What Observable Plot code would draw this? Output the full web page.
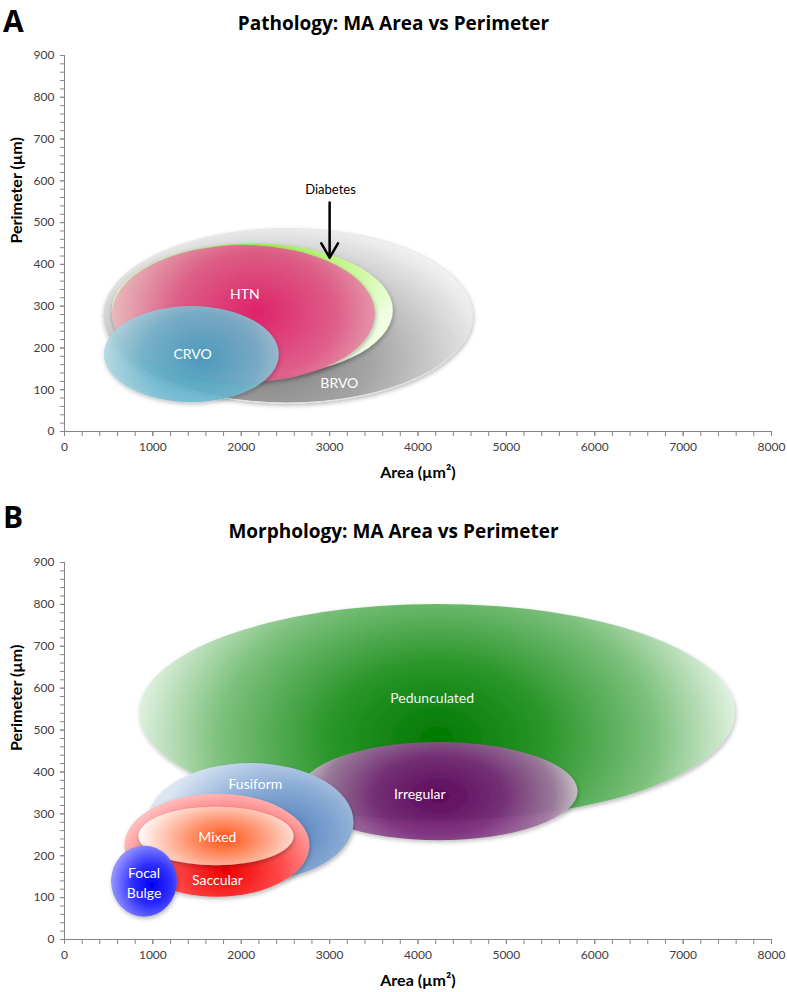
<!DOCTYPE html>
<html><head><meta charset="utf-8">
<script src="https://cdn.jsdelivr.net/npm/d3@7"></script>
<script src="https://cdn.jsdelivr.net/npm/@observablehq/plot@0.6"></script>
<style>
body{margin:0;background:#fff;}
#wrap{position:relative;width:787px;height:992px;overflow:hidden;}
.panel{position:absolute;left:0;width:787px;height:496px;}
.letter{position:absolute;left:3px;font:bold 30px/1 "Open Sans",sans-serif;color:#000;}
.title{position:absolute;left:0;width:787px;text-align:center;font:bold 19px/1.2 "Open Sans",sans-serif;color:#000;}
</style></head><body>
<div id="wrap">
  <div class="panel" id="pA" style="top:0"></div>
  <div class="panel" id="pB" style="top:496px"></div>
  <div class="letter" style="top:6px">A</div>
  <div class="title" style="top:12px">Pathology: MA Area vs Perimeter</div>
  <div class="letter" style="top:502px">B</div>
  <div class="title" style="top:520px">Morphology: MA Area vs Perimeter</div>
</div>
<script>
// ---- Axis ticks ----
const xTicks = [0, 1000, 2000, 3000, 4000, 5000, 6000, 7000, 8000];
const yTicks = [0, 100, 200, 300, 400, 500, 600, 700, 800, 900];

// ---- Panel A: Pathology (area in µm², perimeter in µm) ----
const pathNames = ["BRVO", "Diabetes", "HTN", "CRVO"];
const pathAreaCenter = [2530, 2130, 2030, 1440];
const pathAreaHalf = [2090, 1590, 1490, 990];
const pathPerimCenter = [276, 289, 281, 184];
const pathPerimHalf = [209, 160, 164, 115];
const pathLabelNames = ["BRVO", "HTN", "CRVO"];
const pathLabelArea = [3110, 2040, 1450];
const pathLabelPerim = [115, 328, 184];
const diabetesLabel = {area: 3010, perim: 579};
const diabetesArrow = {area: 3000, from: 548, to: 416};

// ---- Panel B: Morphology ----
const morphNames = ["Pedunculated", "Irregular", "Fusiform", "Saccular", "Mixed", "Focal Bulge"];
const morphAreaCenter = [4220, 4240, 2110, 1730, 1720, 905];
const morphAreaHalf = [3370, 1570, 1165, 1046, 877, 373];
const morphPerimCenter = [542, 353, 279, 224, 246, 138];
const morphPerimHalf = [258, 117, 141, 123, 70, 85];
const morphLabelArea = [4160, 4020, 2160, 1730, 1730, 900];
const morphLabelPerim = [580, 351, 375, 146, 248, 138];
const morphLabelText = ["Pedunculated", "Irregular", "Fusiform", "Saccular", "Mixed", "Focal\nBulge"];

// ---- Styles ----
const styles = {
  BRVO: {cx: 0.45, cy: 0.75, r: 0.62, sy: 1.3, op: 0.95, stops: [[0, "#7c7c7c"], [0.45, "#a2a2a2"], [1, "#f4f4f4"]], stroke: "#e6e6e6"},
  Diabetes: {cx: 0.5, cy: 0.1, r: 0.6, sy: 1.2, op: 1, stops: [[0, "#90ea40"], [0.5, "#c0f688"], [1, "#f0ffe2"]]},
  HTN: {cx: 0.55, cy: 0.5, r: 0.55, sy: 1.5, op: 0.95, stops: [[0, "#e01a68"], [0.55, "#e05888"], [1, "#e8b8bc"]]},
  CRVO: {cx: 0.55, cy: 0.55, r: 0.55, sy: 1.4, op: 0.85, stops: [[0, "#3aa4c6"], [0.6, "#6cb8d0"], [1, "#b0d8e2"]]},
  Pedunculated: {cx: 0.5, cy: 0.62, r: 0.52, sy: 1.9, op: 1, stops: [[0, "#007800"], [0.35, "#2a962a"], [0.7, "#7cc07c"], [1, "#eaf6ea"]]},
  Irregular: {cx: 0.5, cy: 0.55, r: 0.52, sy: 1.7, op: 0.92, stops: [[0, "#620062"], [0.45, "#7a2a7a"], [0.8, "#a078a0"], [1, "#d8d0d8"]]},
  Fusiform: {cx: 0.65, cy: 0.6, r: 0.6, sy: 1.3, op: 1, stops: [[0, "#4a7cbc"], [0.55, "#8eaed6"], [1, "#dbe6f2"]]},
  Saccular: {cx: 0.55, cy: 0.75, r: 0.6, sy: 1.3, op: 1, stops: [[0, "#f00000"], [0.5, "#ff4a4a"], [1, "#ffbcbc"]]},
  Mixed: {cx: 0.55, cy: 0.55, r: 0.55, sy: 1.4, op: 1, stops: [[0, "#ff5414"], [0.45, "#ff9a78"], [1, "#fffaf8"]]},
  "Focal Bulge": {cx: 0.62, cy: 0.55, r: 0.6, sy: 1, op: 1, stops: [[0, "#0000f0"], [0.5, "#3030ff"], [1, "#9090ff"]]}
};

function ellipseMark(prefix, names, cx, rx, cy, ry) {
  return (index, scales) => {
    const x = scales.x, y = scales.y;
    const g = d3.create("svg:g");
    const defs = g.append("defs");
    const f = defs.append("filter").attr("id", prefix + "sh").attr("x", "-20%").attr("y", "-20%").attr("width", "140%").attr("height", "140%");
    f.append("feDropShadow").attr("dx", 1).attr("dy", 2).attr("stdDeviation", 2).attr("flood-color", "#000").attr("flood-opacity", 0.28);
    names.forEach((n, i) => {
      const st = styles[n];
      const id = prefix + i;
      const grad = defs.append("radialGradient").attr("id", id)
        .attr("cx", st.cx).attr("cy", st.cy).attr("r", st.r)
        .attr("gradientTransform", `translate(${st.cx},${st.cy}) scale(1,${st.sy}) translate(${-st.cx},${-st.cy})`);
      st.stops.forEach(([o, c]) => grad.append("stop").attr("offset", o).attr("stop-color", c));
      const px = x(cx[i]), py = y(cy[i]);
      g.append("ellipse")
        .attr("cx", px).attr("cy", py)
        .attr("rx", Math.abs(x(cx[i] + rx[i]) - px))
        .attr("ry", Math.abs(y(cy[i] + ry[i]) - py))
        .attr("fill", `url(#${id})`)
        .attr("fill-opacity", st.op)
        .attr("stroke", st.stroke || "none")
        .attr("stroke-width", st.stroke ? 1 : 0)
        .attr("filter", `url(#${prefix}sh)`);
    });
    return g.node();
  };
}

function axes() {
  return [
    Plot.ruleX([0], {stroke: "#868686"}),
    Plot.ruleY([0], {stroke: "#868686"}),
    Plot.axisY(d3.range(0, 901, 20), {tickSize: 4, tickFormat: () => "", stroke: "#868686"}),
    Plot.axisY(yTicks, {tickSize: 4, tickPadding: 6, stroke: "#868686", fill: "#404040", fontSize: 12, tickFormat: d => String(d), label: null}),
    Plot.axisX(d3.range(0, 8001, 200), {tickSize: 5, tickFormat: () => "", stroke: "#868686"}),
    Plot.axisX(xTicks, {tickSize: 5, tickPadding: 6, stroke: "#868686", fill: "#404040", fontSize: 12, tickFormat: d => String(d), label: null}),
    Plot.text(["Area (µm²)"], {frameAnchor: "bottom", dy: 46, fontSize: 16, fontWeight: "bold", fill: "#000"}),
    Plot.text(["Perimeter (µm)"], {frameAnchor: "left", dx: -48, rotate: -90, fontSize: 16, fontWeight: "bold", fill: "#000"})
  ];
}

const common = {
  width: 787, height: 496,
  marginLeft: 64, marginRight: 16,
  x: {domain: [0, 8000], label: null},
  y: {domain: [0, 900], label: null},
  style: {fontFamily: "Lato, 'Open Sans', sans-serif", background: "transparent", overflow: "visible"}
};

const plotA = Plot.plot({
  ...common,
  marginTop: 55, marginBottom: 65,
  marks: [
    ellipseMark("ga", pathNames, pathAreaCenter, pathAreaHalf, pathPerimCenter, pathPerimHalf),
    Plot.text(d3.range(pathLabelNames.length), {x: i => pathLabelArea[i], y: i => pathLabelPerim[i], text: i => pathLabelNames[i], fill: "white", fontSize: 14}),
    Plot.text([diabetesLabel], {x: "area", y: "perim", text: () => "Diabetes", fill: "#000", fontSize: 13}),
    Plot.arrow([diabetesArrow], {x1: "area", x2: "area", y1: "from", y2: "to", stroke: "#000", strokeWidth: 2.5, headLength: 10}),
    ...axes()
  ]
});
document.getElementById("pA").appendChild(plotA);

const plotB = Plot.plot({
  ...common,
  marginTop: 66, marginBottom: 53,
  marks: [
    ellipseMark("gb", morphNames, morphAreaCenter, morphAreaHalf, morphPerimCenter, morphPerimHalf),
    Plot.text(d3.range(morphLabelText.length), {x: i => morphLabelArea[i], y: i => morphLabelPerim[i], text: i => morphLabelText[i], fill: i => i === 0 ? "#eef8ee" : "white", fontSize: 14, lineHeight: 1.45}),
    ...axes()
  ]
});
document.getElementById("pB").appendChild(plotB);
</script>
</body></html>
